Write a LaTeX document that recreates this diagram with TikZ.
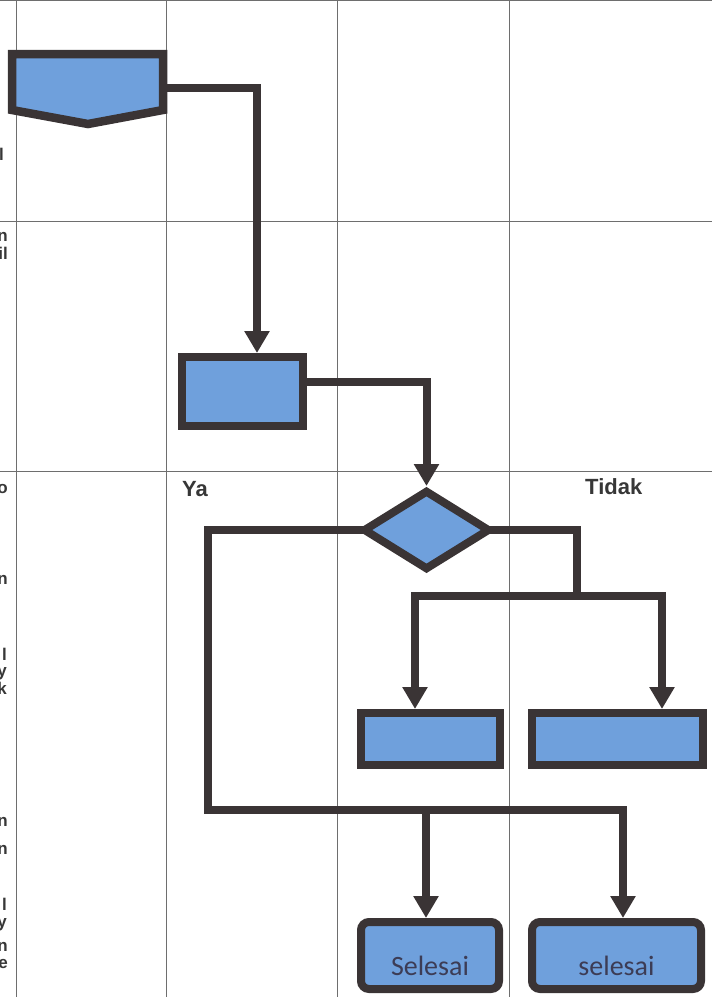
\documentclass[tikz,border=0pt]{standalone}
\usepackage{fontspec}
\setmainfont{Liberation Sans}
\newfontfamily\calib{Carlito}
\usetikzlibrary{arrows.meta,shapes.geometric}
\definecolor{fillblue}{RGB}{111,160,220}
\definecolor{strokec}{RGB}{58,52,53}
\definecolor{gridc}{RGB}{110,110,110}
\definecolor{txt}{RGB}{55,55,55}
\definecolor{termtxt}{RGB}{60,60,85}
\begin{document}
\begin{tikzpicture}[x=1pt,y=-1pt,
  box/.style={draw=strokec,fill=fillblue,line width=8pt,inner sep=0pt},
  proc/.style={box,rectangle},
  term/.style={box,rectangle,rounded corners=8pt,font=\calib\fontsize{28}{30}\selectfont,text=termtxt},
  dec/.style={box,diamond},
  conn/.style={draw=strokec,line width=8pt,line cap=rect},
  arr/.style={conn,-{Triangle[width=24pt,length=22pt]}},
  gridline/.style={draw=gridc,line width=1pt},
  lbl/.style={font=\bfseries\fontsize{22}{26}\selectfont,text=txt,inner sep=0pt,anchor=base west},
  frag/.style={font=\bfseries\fontsize{17}{18}\selectfont,text=txt,inner sep=0pt,anchor=base east}
]
\useasboundingbox (0,0) rectangle (712,997);
% grid
\draw[gridline] (0,0.5) -- (712,0.5);
\draw[gridline] (0,221) -- (712,221);
\draw[gridline] (0,471) -- (712,471);
\foreach \gx in {16,166,337,509} \draw[gridline] (\gx,0) -- (\gx,997);
% cut-off text at the left edge
\node[frag] (f1) at (4,160) {l};
\node[frag] (f2) at (8,241) {n};
\node[frag] (f3) at (8,259) {il};
\node[frag] (f4) at (8,493) {o};
\node[frag] (f5) at (8,584) {n};
\node[frag] (f6) at (7,660) {l};
\node[frag] (f7) at (7,676) {y};
\node[frag] (f8) at (7,694) {k};
\node[frag] (f9) at (8,826) {n};
\node[frag] (f10) at (8,854) {n};
\node[frag] (f11) at (7,910) {l};
\node[frag] (f12) at (7,927) {y};
\node[frag] (f13) at (8,951) {n};
\node[frag] (f14) at (8,968) {e};
% off-page connector
\filldraw[draw=strokec,fill=fillblue,line width=8.5pt] (12,54) -- (163,54) -- (163,110) -- (88,124) -- (12,110) -- cycle;
\coordinate (offR) at (167,88);
% nodes
\node[proc,minimum width=121pt,minimum height=69pt] (r1) at (242.5,391.5) {};
\node[dec,minimum width=127pt,minimum height=80pt] (d) at (426.5,530) {};
\node[proc,minimum width=139pt,minimum height=52pt] (r2) at (430.5,739) {};
\node[proc,minimum width=171pt,minimum height=52pt] (r3) at (617.5,739) {};
\node[term,minimum width=138pt,minimum height=67pt] (s1) at (430,955.5) {\raisebox{-20pt}[0pt][0pt]{Selesai}};
\node[term,minimum width=169pt,minimum height=67pt] (s2) at (616.5,955.5) {\raisebox{-20pt}[0pt][0pt]{selesai}};
% labels
\node[lbl] (ya) at (182,496) {Ya};
\node[lbl] (tidak) at (585,494) {Tidak};
% connectors
\coordinate (j1) at (577,596);
\coordinate (j2) at (208,810);
\draw[arr] (offR) -| (257,0 |- r1.north);
\draw[arr] (r1.east |- 0,382) -| (d.north);
\draw[conn] (d.east) -| (j1);
\draw[arr] (j1) -| (415,0 |- r2.north);
\draw[arr] (j1) -| (662,0 |- r3.north);
\draw[conn] (d.west) -| (j2);
\draw[arr] (j2) -| (426,0 |- s1.north);
\draw[arr] (j2) -| (623,0 |- s2.north);
\end{tikzpicture}
\end{document}
